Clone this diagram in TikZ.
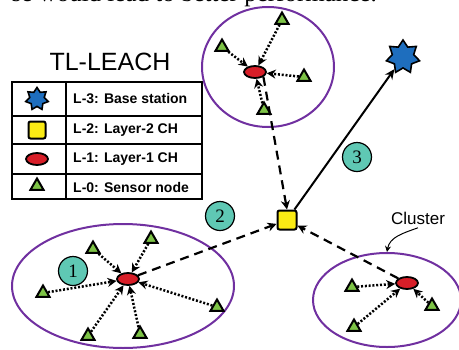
\documentclass[tikz,border=0pt]{standalone}
\usepackage{fontspec}
\setmainfont{Liberation Serif}
\newfontfamily\legfont{Liberation Sans}
\usetikzlibrary{shapes.geometric,arrows.meta}
\definecolor{clpurple}{RGB}{112,48,160}
\definecolor{bsblue}{RGB}{30,110,190}
\definecolor{chred}{RGB}{215,30,40}
\definecolor{lyellow}{RGB}{250,235,20}
\definecolor{sgreen}{RGB}{125,195,70}
\definecolor{stepteal}{RGB}{95,200,180}
\begin{document}
\begin{tikzpicture}[x=1pt,y=-1pt,
  sensor/.style={regular polygon, regular polygon sides=3, draw=black, fill=sgreen, line width=2pt, inner sep=0pt, minimum size=15pt},
  headnode/.style={ellipse, draw=black, fill=chred, line width=1.8pt, inner sep=0pt, minimum width=22pt, minimum height=12pt},
  layertwo/.style={rectangle, rounded corners=2pt, draw=black, fill=lyellow, line width=2pt, inner sep=0pt, minimum size=19pt},
  basest/.style={star, star points=7, star point ratio=1.55, draw=black, fill=bsblue, line width=1.6pt, inner sep=0pt, minimum size=#1},
  cluster/.style={ellipse, draw=clpurple, line width=2pt, inner sep=0pt},
  stepnum/.style={circle, draw=black, fill=stepteal, line width=1.2pt, inner sep=0pt, minimum size=29pt, font=\fontsize{19}{19}\selectfont},
  dotarrow/.style={line width=2.5pt, dash pattern=on 2pt off 1.8pt, -{Stealth[length=9pt,width=9pt]}},
  dasharrow/.style={line width=2.2pt, dash pattern=on 9pt off 6pt, -{Stealth[length=9pt,width=9pt]}},
  legtext/.style={anchor=west, inner sep=0pt, font=\legfont\bfseries\fontsize{14}{14}\selectfont}]
\useasboundingbox (0,0) rectangle (459,349);
% caption text cut off at the top
\node[anchor=base east, inner sep=0pt, font=\fontsize{25}{25}\selectfont] (caption) at (377,1) {se would lead to better performance.};
% legend
\node[font=\legfont\fontsize{25}{25}\selectfont] (title) at (110,62) {TL-LEACH};
\draw[line width=1.2pt] (12,82) rectangle (202,199);
\draw[line width=1.2pt] (66,82) -- (66,199);
\draw[line width=1.2pt] (12,116) -- (202,116);
\draw[line width=1.2pt] (12,144) -- (202,144);
\draw[line width=1.2pt] (12,174) -- (202,174);
\node[basest=23pt] (k3) at (37,99) {};
\node[layertwo, minimum size=17pt] (k2) at (37,130) {};
\node[headnode] (k1) at (37,159) {};
\node[sensor] (k0) at (37,186) {};
\node[legtext] (t3) at (73,99) {L-3: Base station};
\node[legtext] (t2) at (73,130) {L-2: Layer-2 CH};
\node[legtext] (t1) at (73,159) {L-1: Layer-1 CH};
\node[legtext] (t0) at (73,187) {L-0: Sensor node};
% clusters
\node[cluster, minimum width=132pt, minimum height=120pt] (ctop) at (268,67) {};
\node[cluster, minimum width=222pt, minimum height=124pt] (cleft) at (123,286) {};
\node[cluster, minimum width=148pt, minimum height=94pt] (cright) at (387,300) {};
% top cluster
\node[headnode] (ha) at (255,72) {};
\node[sensor] (a1) at (282,20) {};
\node[sensor] (a2) at (222,47) {};
\node[sensor] (a3) at (304,77) {};
\node[sensor] (a4) at (264,110) {};
\path [dotarrow] (a1) edge (ha);
\path [dotarrow] (a2) edge (ha);
\path [dotarrow] (a3) edge (ha);
\path [dotarrow] (a4) edge (ha);
% left cluster
\node[headnode] (hb) at (128,279) {};
\node[sensor] (b1) at (93,249) {};
\node[sensor] (b2) at (151,239) {};
\node[sensor] (b3) at (43,293) {};
\node[sensor] (b4) at (217,307) {};
\node[sensor] (b5) at (88,336) {};
\node[sensor] (b6) at (140,334) {};
\path [dotarrow] (b1) edge (hb);
\path [dotarrow] (b2) edge (hb);
\path [dotarrow] (b3) edge (hb);
\path [dotarrow] (b4) edge (hb);
\path [dotarrow] (b5) edge (hb);
\path [dotarrow] (b6) edge (hb);
% right cluster
\node[headnode] (hc) at (407,283) {};
\node[sensor] (c1) at (352,287) {};
\node[sensor] (c2) at (354,327) {};
\node[sensor] (c3) at (432,306) {};
\path [dotarrow] (c1) edge (hc);
\path [dotarrow] (c2) edge (hc);
\path [dotarrow] (c3) edge (hc);
% layer-2 head and base station
\node[layertwo] (ltwo) at (287,220) {};
\node[basest=34pt] (bs) at (403,57) {};
\path [dasharrow] (ha.south east) edge (ltwo.north);
\path [dasharrow] (hb) edge (ltwo);
\path [dasharrow] (hc) edge (ltwo);
\path [line width=2pt, -{Stealth[length=10pt,width=9pt]}] (ltwo) edge (bs);
\node[stepnum] (one) at (73,271) {1};
\node[stepnum] (two) at (220,216) {2};
\node[stepnum] (three) at (357,157) {3};
% cluster label
\node[font=\legfont\fontsize{17}{17}\selectfont] (clabel) at (418,218) {Cluster};
\draw[line width=1pt, -{Stealth[length=6pt,width=6pt]}] (clabel.south) to[out=200, in=80] (cright.north);
\end{tikzpicture}
\end{document}
